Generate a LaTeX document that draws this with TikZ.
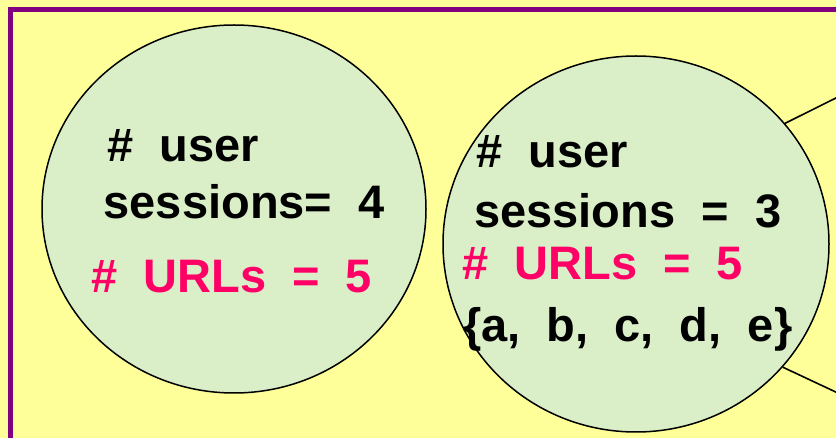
\documentclass[tikz,border=0pt]{standalone}
\usepackage{fontspec}
\setmainfont{Liberation Sans}[WordSpace=2]
\usetikzlibrary{shapes.geometric}
\definecolor{paper}{RGB}{255,255,153}
\definecolor{frame}{RGB}{128,0,128}
\definecolor{dotfill}{RGB}{218,239,200}
\definecolor{urlred}{RGB}{255,0,102}
\tikzset{
  session/.style={ellipse, draw=black, line width=1.5pt, fill=dotfill, inner sep=0pt},
  label/.style={anchor=base west, inner sep=0pt, font=\fontsize{47}{55}\selectfont\bfseries},
  urls/.style={label, text=urlred},
  link/.style={draw=black, line width=1.6pt},
}
\begin{document}
\begin{tikzpicture}[x=1pt, y=-1pt]
  % page background and frame
  \fill[paper] (0,0) rectangle (836,438);
  \useasboundingbox (0,0) rectangle (836,438);
  \draw[frame, line width=5pt] (10,445) -- (10,10) -- (845,10);

  % left session group
  \node[session, minimum width=384pt, minimum height=368pt] (c1) at (234,209) {};
  \node[label] (l1a) at (107,162) {\# user};
  \node[label] (l1b) at (103.5,219) {sessions= 4};
  \node[urls]  (l1c) at (91,293) {\# URLs = 5};

  % right session group
  \node[session, minimum width=386pt, minimum height=376pt] (c2) at (636,244) {};
  \node[label] (l2a) at (476,168) {\# user};
  \node[label] (l2b) at (474,228) {sessions = 3};
  \node[urls]  (l2c) at (462,280) {\# URLs = 5};
  \node[label] (l2d) at (463,342) {\{a, b, c, d, e\}};

  % connectors leaving the right group
  \coordinate (t1) at (840,96);
  \coordinate (t2) at (840,394);
  \draw[link] (c2.39) -- (t1);
  \draw[link] (c2.-40) -- (t2);
\end{tikzpicture}
\end{document}
